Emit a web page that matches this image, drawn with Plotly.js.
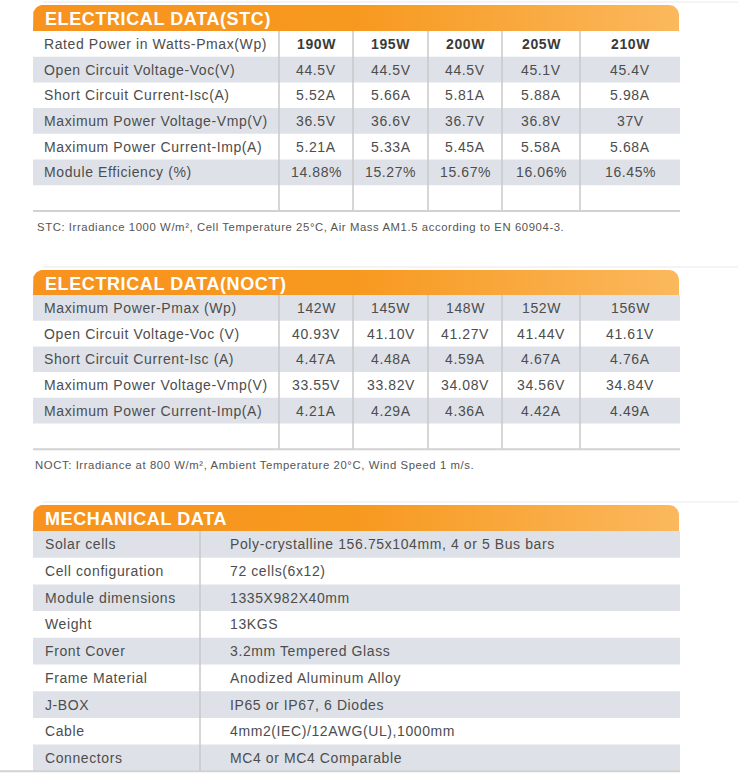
<!DOCTYPE html>
<html>
<head>
<meta charset="utf-8">
<script src="https://cdn.plot.ly/plotly-3.0.1.min.js"></script>
<style>
  body { margin: 0; background: #fff; }
  #sheet { width: 738px; height: 773px; }
  .annotation-text { letter-spacing: 0.6px; }
</style>
</head>
<body>
<div id="sheet"></div>
<script>
// ---- data ----
const stcTitle = 'ELECTRICAL DATA(STC)';
const stcLabels = [
  'Rated Power in Watts-Pmax(Wp)',
  'Open Circuit Voltage-Voc(V)',
  'Short Circuit Current-Isc(A)',
  'Maximum Power Voltage-Vmp(V)',
  'Maximum Power Current-Imp(A)',
  'Module Efficiency (%)',
];
const stcPmax = ['190W', '195W', '200W', '205W', '210W'];
const stcVoc = ['44.5V', '44.5V', '44.5V', '45.1V', '45.4V'];
const stcIsc = ['5.52A', '5.66A', '5.81A', '5.88A', '5.98A'];
const stcVmp = ['36.5V', '36.6V', '36.7V', '36.8V', '37V'];
const stcImp = ['5.21A', '5.33A', '5.45A', '5.58A', '5.68A'];
const stcEff = ['14.88%', '15.27%', '15.67%', '16.06%', '16.45%'];
const stcNote =
  'STC: Irradiance 1000 W/m², Cell Temperature 25°C, Air Mass AM1.5 according to EN 60904-3.';

const noctTitle = 'ELECTRICAL DATA(NOCT)';
const noctLabels = [
  'Maximum Power-Pmax (Wp)',
  'Open Circuit Voltage-Voc (V)',
  'Short Circuit Current-Isc (A)',
  'Maximum Power Voltage-Vmp(V)',
  'Maximum Power Current-Imp(A)',
];
const noctPmax = ['142W', '145W', '148W', '152W', '156W'];
const noctVoc = ['40.93V', '41.10V', '41.27V', '41.44V', '41.61V'];
const noctIsc = ['4.47A', '4.48A', '4.59A', '4.67A', '4.76A'];
const noctVmp = ['33.55V', '33.82V', '34.08V', '34.56V', '34.84V'];
const noctImp = ['4.21A', '4.29A', '4.36A', '4.42A', '4.49A'];
const noctNote =
  'NOCT: Irradiance at 800 W/m², Ambient Temperature 20°C, Wind Speed 1 m/s.';

const mechTitle = 'MECHANICAL DATA';
const mechLabels = [
  'Solar cells',
  'Cell configuration',
  'Module dimensions',
  'Weight',
  'Front Cover',
  'Frame Material',
  'J-BOX',
  'Cable',
  'Connectors',
];
const mechValues = [
  'Poly-crystalline 156.75x104mm, 4 or 5 Bus bars',
  '72 cells(6x12)',
  '1335X982X40mm',
  '13KGS',
  '3.2mm Tempered Glass',
  'Anodized Aluminum Alloy',
  'IP65 or IP67, 6 Diodes',
  '4mm2(IEC)/12AWG(UL),1000mm',
  'MC4 or MC4 Comparable',
];

// ---- look ----
const W = 738;
const H = 773;
const LEFT = 33;
const RIGHT = 680;
const ROW_GRAY = '#dee2e8';
const GRID = '#c9c9c9';
const TEXT = '#4d4d4d';
const FONT = 'Liberation Sans, Arial, sans-serif';
const elecCols = [33, 279, 353, 428, 502, 580, 680];

const traces = [];
const shapes = [];
const annotations = [];

function header(top, bottom, title) {
  const r = 10;
  const x0 = LEFT;
  const x1 = RIGHT - 1;
  const xs = [x0];
  const ys = [bottom];
  for (let i = 0; i <= 12; i++) {
    const a = Math.PI + (i / 12) * (Math.PI / 2);
    xs.push(x0 + r + r * Math.cos(a));
    ys.push(top + r + r * Math.sin(a));
  }
  for (let i = 0; i <= 12; i++) {
    const a = 1.5 * Math.PI + (i / 12) * (Math.PI / 2);
    xs.push(x1 - r + r * Math.cos(a));
    ys.push(top + r + r * Math.sin(a));
  }
  xs.push(x1, x0);
  ys.push(bottom, bottom);
  traces.push({
    x: xs,
    y: ys,
    type: 'scatter',
    mode: 'lines',
    fill: 'toself',
    fillcolor: '#f7961f',
    fillgradient: {
      type: 'horizontal',
      colorscale: [
        [0, '#f7931e'],
        [0.5, '#f7991f'],
        [1, '#fbb85d'],
      ],
    },
    line: { width: 0 },
    hoverinfo: 'skip',
    showlegend: false,
  });
  // faint shadow above the tab
  shapes.push({
    type: 'line',
    xref: 'x',
    yref: 'y',
    x0: LEFT + r,
    x1: W,
    y0: top - 3,
    y1: top - 3,
    line: { color: '#f4f4f4', width: 2 },
  });
  annotations.push({
    x: LEFT + 10,
    y: (top + bottom) / 2 + 1,
    xref: 'x',
    yref: 'y',
    text: title,
    showarrow: false,
    xanchor: 'left',
    yanchor: 'middle',
    font: { family: FONT, size: 18, color: '#ffffff', weight: 'bold' },
  });
}

function rowBands(top, rowH, nRows, grayFirst) {
  for (let i = 0; i < nRows; i++) {
    const gray = grayFirst ? i % 2 === 0 : i % 2 === 1;
    if (!gray) continue;
    shapes.push({
      type: 'rect',
      xref: 'x',
      yref: 'y',
      layer: 'below',
      x0: LEFT,
      x1: RIGHT,
      y0: top + i * rowH,
      y1: top + (i + 1) * rowH,
      fillcolor: ROW_GRAY,
      line: { width: 0 },
    });
  }
}

function vline(x, y0, y1) {
  shapes.push({
    type: 'line',
    xref: 'x',
    yref: 'y',
    x0: x,
    x1: x,
    y0: y0,
    y1: y1,
    line: { color: GRID, width: 1.5 },
  });
}

function hline(x0, x1, y) {
  shapes.push({
    type: 'line',
    xref: 'x',
    yref: 'y',
    x0: x0,
    x1: x1,
    y0: y,
    y1: y,
    line: { color: '#d2d2d2', width: 2 },
  });
}

function text(x, y, s, anchor, size, bold, color) {
  annotations.push({
    x: x,
    y: y,
    xref: 'x',
    yref: 'y',
    text: s,
    showarrow: false,
    xanchor: anchor,
    yanchor: 'middle',
    font: {
      family: FONT,
      size: size,
      color: color || TEXT,
      weight: bold ? 'bold' : 'normal',
    },
  });
}

function elecTable(top, bottom, rowH, title, labels, rows, grayFirst, boldFirst) {
  header(top, bottom, title);
  const nRows = labels.length + 1;
  rowBands(bottom, rowH, nRows, grayFirst);
  const end = bottom + nRows * rowH;
  for (let c = 1; c < elecCols.length - 1; c++) vline(elecCols[c], bottom, end);
  hline(LEFT, RIGHT, end);
  labels.forEach((lab, i) => {
    const yc = bottom + (i + 0.5) * rowH;
    text(LEFT + 9, yc, lab, 'left', 14);
    rows[i].forEach((v, j) => {
      const xc = (elecCols[j + 1] + elecCols[j + 2]) / 2;
      text(xc, yc, v, 'center', 14, boldFirst && i === 0, boldFirst && i === 0 ? '#3a3a3a' : TEXT);
    });
  });
  return end;
}

// STC block
const stcEnd = elecTable(
  5, 31, 25.7, stcTitle, stcLabels,
  [stcPmax, stcVoc, stcIsc, stcVmp, stcImp, stcEff],
  false, true
);
text(35, stcEnd + 16, stcNote, 'left', 11.3, false, '#555555');

// NOCT block
const noctEnd = elecTable(
  270, 295, 25.7, noctTitle, noctLabels,
  [noctPmax, noctVoc, noctIsc, noctVmp, noctImp],
  true, false
);
text(33, noctEnd + 16, noctNote, 'left', 11.3, false, '#555555');

// Mechanical block
const mechTop = 505;
const mechBottom = 531;
const mechRowH = 26.7;
header(mechTop, mechBottom, mechTitle);
rowBands(mechBottom, mechRowH, mechLabels.length, true);
const mechEnd = mechBottom + mechLabels.length * mechRowH;
vline(200, mechBottom, mechEnd);
hline(0, RIGHT, mechEnd);
mechLabels.forEach((lab, i) => {
  const yc = mechBottom + (i + 0.5) * mechRowH;
  text(LEFT + 10, yc, lab, 'left', 14);
  text(228, yc, mechValues[i], 'left', 14);
});

Plotly.newPlot(
  'sheet',
  traces,
  {
    width: W,
    height: H,
    margin: { l: 0, r: 0, t: 0, b: 0 },
    paper_bgcolor: '#ffffff',
    plot_bgcolor: '#ffffff',
    xaxis: { range: [0, W], visible: false, fixedrange: true },
    yaxis: { range: [H, 0], visible: false, fixedrange: true },
    shapes: shapes,
    annotations: annotations,
    showlegend: false,
  },
  { staticPlot: true }
);
</script>
</body>
</html>
